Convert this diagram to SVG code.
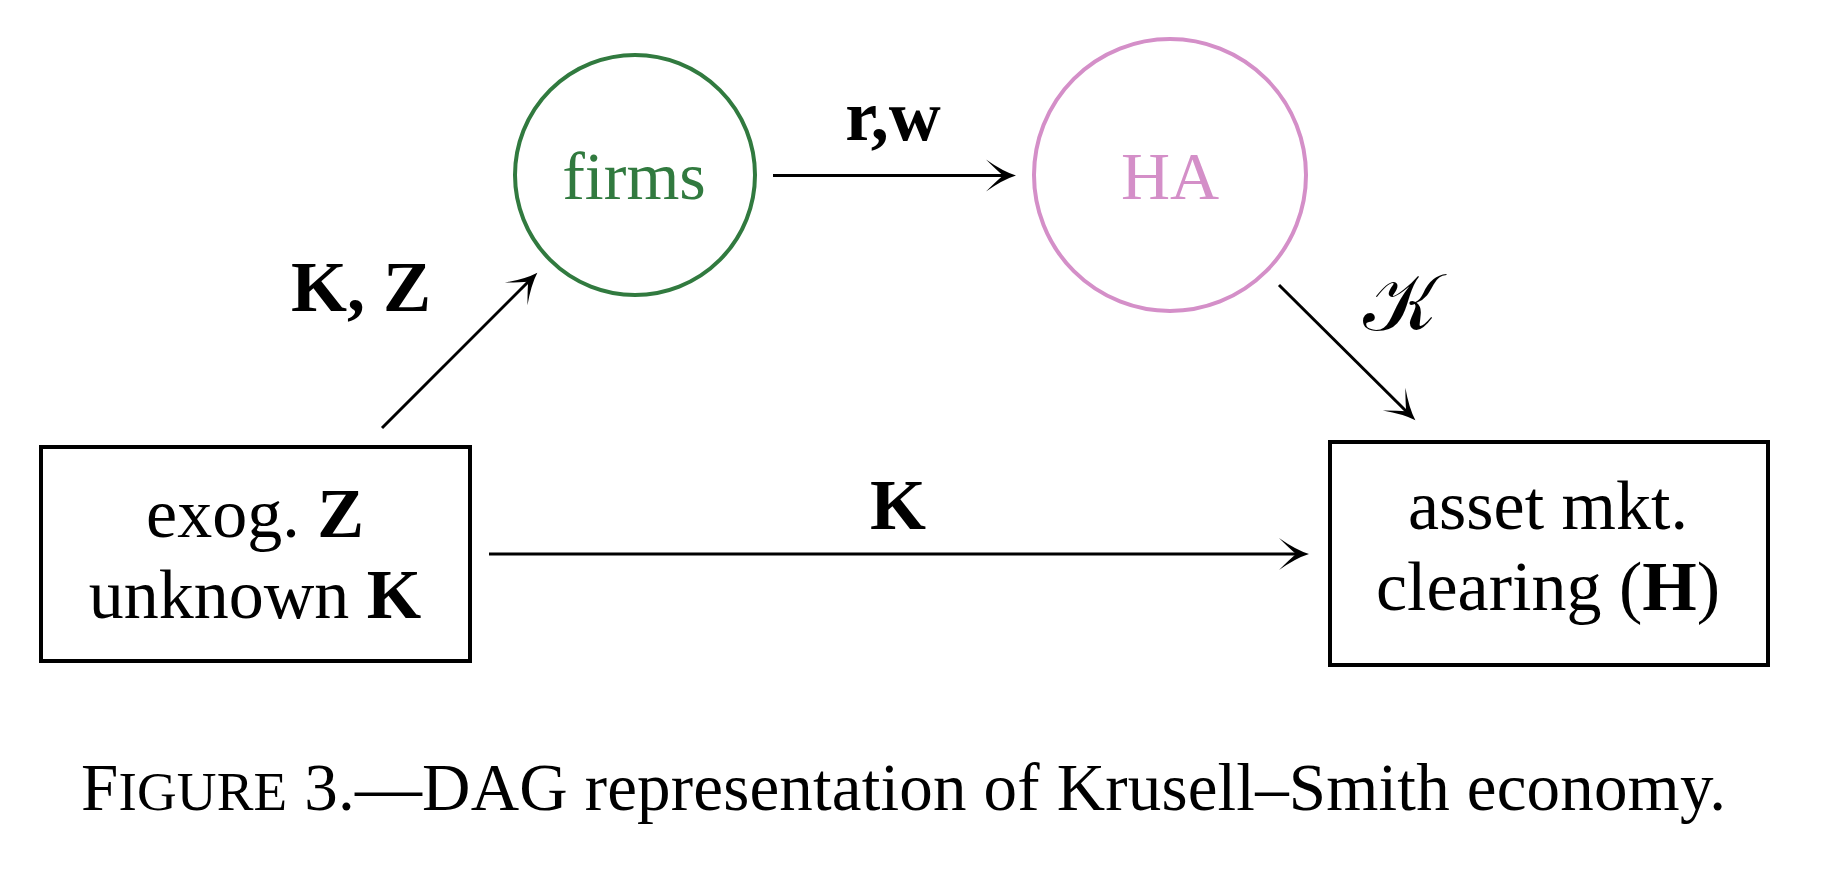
<svg xmlns="http://www.w3.org/2000/svg" width="1833" height="889" viewBox="0 0 1833 889">
<style>
.t{font-family:"Liberation Serif","Times New Roman",serif;fill:#000}
.b{font-weight:bold}
.edge{stroke:#000;stroke-width:3;fill:none;marker-end:url(#arr)}
.box{fill:#fff;stroke:#000;stroke-width:4}
</style>
<defs>
<marker id="arr" markerUnits="userSpaceOnUse" viewBox="-34 -19 36 38" markerWidth="36" markerHeight="38" refX="-8" refY="0" orient="auto">
<path d="M1,0 Q-12,-4 -29,-16 Q-19,-6 -12,0 Q-19,6 -29,16 Q-12,4 1,0 Z" fill="#000"/>
</marker>
</defs>
<rect width="1833" height="889" fill="#fff"/>
<g id="connectors">
<line class="edge" x1="382" y1="428" x2="531" y2="279"/>
<line class="edge" x1="773" y1="175.5" x2="1007" y2="175.5"/>
<line class="edge" x1="1279" y1="285" x2="1409" y2="414"/>
<line class="edge" x1="489" y1="554" x2="1300" y2="554"/>
<text class="t b" x="361" y="311" font-size="72" text-anchor="middle">K, Z</text>
<text class="t b" x="893" y="140" font-size="72" text-anchor="middle">r,w</text>
<text class="t" x="1400" y="330" font-size="80" text-anchor="middle">𝒦</text>
<text class="t b" x="898" y="529" font-size="72" text-anchor="middle">K</text>
</g>
<g id="firms">
<circle cx="635" cy="175" r="120" fill="none" stroke="#317a3f" stroke-width="4"/>
<text class="t" x="634" y="199" font-size="68" text-anchor="middle" style="fill:#317a3f">firms</text>
</g>
<g id="HA">
<circle cx="1170" cy="175" r="136" fill="none" stroke="#d48fc8" stroke-width="4"/>
<text class="t" x="1170" y="199" font-size="68" text-anchor="middle" style="fill:#d48fc8">HA</text>
</g>
<g id="exog">
<rect class="box" x="41" y="447" width="429" height="214"/>
<text class="t" x="255" y="537" font-size="70" text-anchor="middle">exog. <tspan class="b">Z</tspan></text>
<text class="t" x="255" y="618" font-size="70" text-anchor="middle">unknown <tspan class="b">K</tspan></text>
</g>
<g id="asset">
<rect class="box" x="1330" y="442" width="438" height="223"/>
<text class="t" x="1548" y="529" font-size="70" text-anchor="middle">asset mkt.</text>
<text class="t" x="1548" y="610" font-size="70" text-anchor="middle">clearing (<tspan class="b">H</tspan>)</text>
</g>
<g id="caption">
<text class="t" x="81" y="810" font-size="67" textLength="1645" lengthAdjust="spacing">F<tspan font-size="55">IGURE</tspan> 3.—DAG representation of Krusell–Smith economy.</text>
</g>
</svg>
